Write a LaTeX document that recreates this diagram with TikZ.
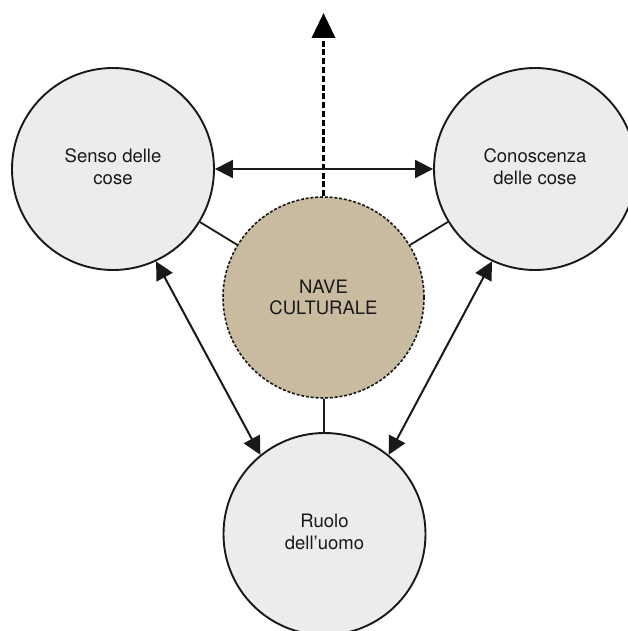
\documentclass[tikz,border=0pt]{standalone}
\usepackage{fontspec}
\setmainfont{TeX Gyre Heros}
\usetikzlibrary{arrows.meta}
\definecolor{discfill}{RGB}{236,236,236}
\definecolor{shipfill}{RGB}{201,187,160}
\definecolor{ink}{RGB}{25,25,25}
\begin{document}
\begin{tikzpicture}[x=1pt,y=-1pt,
  disc/.style={circle,draw=ink,line width=1.9pt,fill=discfill,
    minimum size=202pt,inner sep=0pt,align=center,text=ink,
    font=\fontsize{18.5}{22}\selectfont},
  ship/.style={circle,draw=ink,line width=1.6pt,dash pattern=on 3pt off 1.8pt,
    fill=shipfill,minimum size=201pt,inner sep=0pt,align=center,text=ink,
    font=\fontsize{18.5}{21}\selectfont},
  link/.style={draw=ink,line width=1.8pt},
  twoway/.style={draw=ink,line width=2pt,{Triangle[length=18pt,width=18pt]}-{Triangle[length=18pt,width=18pt]}},
  outward/.style={draw=black,line width=3.6pt,dash pattern=on 6pt off 2.8pt,-{Triangle[length=25pt,width=23pt]}}
]
\useasboundingbox (0,0) rectangle (627,631);

\node[disc] (senso) at (113,169) {\raisebox{-5pt}{\begin{tabular}{@{}c@{}}Senso delle\\cose\end{tabular}}};
\node[disc] (conosc) at (535,169) {\raisebox{-5pt}{\begin{tabular}{@{}c@{}}Conoscenza\\delle cose\end{tabular}}};
\node[disc] (ruolo) at (324.5,534) {\raisebox{3pt}{\begin{tabular}{@{}c@{}}Ruolo\\dell’uomo\end{tabular}}};
\node[ship] (nave) at (323.5,297.5) {NAVE\\CULTURALE};
\coordinate (apex) at (323.5,13);

% plain links between the ship and the three discs
\draw[link] (senso) -- (nave);
\draw[link] (conosc) -- (nave);
\draw[link] (nave) -- (ruolo);

% dashed arrow pointing up out of the ship
\draw[outward] (nave.north) -- (apex);

% two-way relations between the discs
\draw[twoway] (senso.east) -- (conosc.west);
\draw[twoway] (senso.-65) -- (ruolo.129);
\draw[twoway] (conosc.-115) -- (ruolo.51);
\end{tikzpicture}
\end{document}
